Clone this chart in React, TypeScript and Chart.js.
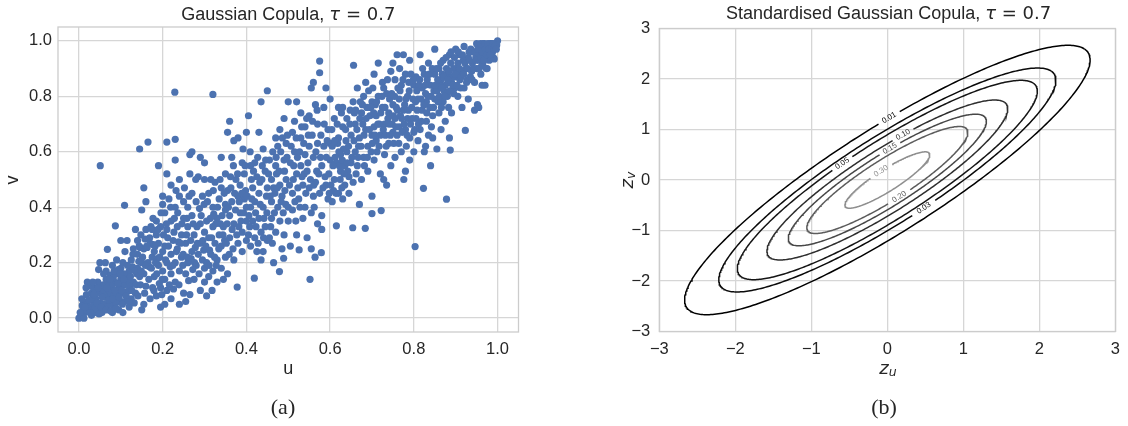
import React, { useEffect, useRef } from "react";
import { Chart, registerables } from "chart.js";

Chart.register(...registerables);

// ---------------- data ----------------
const TAU = 0.7;

const scatterTickValues = [0, 0.2, 0.4, 0.6, 0.8, 1.0];
const scatterTickLabels = ["0.0", "0.2", "0.4", "0.6", "0.8", "1.0"];

const zTickValues = [-3, -2, -1, 0, 1, 2, 3];
const zTickLabels = ["\u22123", "\u22122", "\u22121", "0", "1", "2", "3"];

const contourLevels = [0.01, 0.03, 0.05, 0.1, 0.15, 0.2, 0.3];
const contourLabelText = ["0.01", "0.03", "0.05", "0.10", "0.15", "0.20", "0.30"];
const contourLabelU = [0.02, 0.497, -0.593, 0.214, 0.027, 0.148, -0.09];
const contourLabelV = [1.24, -0.568, 0.351, 0.911, 0.615, -0.306, 0.187];
const contourColors = ["#000000", "#0a0a0a", "#151515", "#2e2e2e", "#474747", "#5c5c5c", "#8f8f8f"];

// (u, v) pairs
const copulaSample: number[][] = [
  [0, 0], [0.005, 0.01], [0.01, 0.03], [0.01, 0.05], [0.015, 0.02], [0.02, 0.06], [0.02, 0.13], [0.025, 0.04],
  [0.03, 0.01], [0.03, 0.09], [0.035, 0.05], [0.035, 0.11], [0.04, 0.02], [0.04, 0.07], [0.045, 0.13], [0.045, 0.03],
  [0.05, 0.09], [0.05, 0.055], [0.008, 0.045], [0.018, 0.085], [0.028, 0.115], [0.038, 0.035], [0.048, 0.015],
  [0.012, 0.0], [0.051, 0.55], [0.047, 0.175], [0.05, 0.2], [0.022, 0.025], [0.032, 0.07], [0.042, 0.1],
  [0.055, 0.02], [0.06, 0.05], [0.06, 0.1], [0.065, 0.14], [0.065, 0.17], [0.07, 0.03], [0.07, 0.08], [0.07, 0.12],
  [0.068, 0.248], [0.075, 0.06], [0.075, 0.155], [0.08, 0.02], [0.08, 0.1], [0.08, 0.19], [0.085, 0.04], [0.085, 0.13],
  [0.087, 0.333], [0.09, 0.07], [0.09, 0.16], [0.09, 0.21], [0.095, 0.11], [0.095, 0.03], [0.1, 0.06], [0.1, 0.14],
  [0.1, 0.18], [0.1, 0.28], [0.058, 0.12], [0.063, 0.2], [0.073, 0.05], [0.083, 0.085], [0.092, 0.095], [0.097, 0.125],
  [0.078, 0.115], [0.088, 0.055], [0.062, 0.075], [0.072, 0.1], [0.082, 0.145], [0.094, 0.175],
  [0.105, 0.02], [0.105, 0.09], [0.105, 0.2], [0.109, 0.407], [0.11, 0.06], [0.11, 0.12], [0.11, 0.24], [0.115, 0.15],
  [0.115, 0.28], [0.12, 0.04], [0.12, 0.1], [0.12, 0.17], [0.125, 0.07], [0.125, 0.21], [0.13, 0.13], [0.13, 0.25],
  [0.135, 0.32], [0.135, 0.09], [0.14, 0.18], [0.14, 0.23], [0.14, 0.28], [0.145, 0.15], [0.145, 0.61], [0.148, 0.3],
  [0.15, 0.03], [0.15, 0.2], [0.15, 0.39], [0.112, 0.095], [0.118, 0.135], [0.128, 0.185], [0.138, 0.16], [0.143, 0.205],
  [0.108, 0.16], [0.132, 0.055], [0.122, 0.115], [0.146, 0.255],
  [0.155, 0.05], [0.155, 0.16], [0.155, 0.25], [0.155, 0.47], [0.16, 0.115], [0.16, 0.32], [0.16, 0.42], [0.165, 0.635],
  [0.165, 0.2], [0.17, 0.07], [0.17, 0.27], [0.175, 0.22], [0.175, 0.32], [0.18, 0.15], [0.18, 0.24], [0.185, 0.08],
  [0.185, 0.3], [0.185, 0.35], [0.19, 0.19], [0.19, 0.27], [0.19, 0.55], [0.195, 0.04], [0.195, 0.11], [0.195, 0.33],
  [0.2, 0.17], [0.2, 0.24], [0.2, 0.41], [0.2, 0.44], [0.158, 0.285], [0.168, 0.185], [0.178, 0.265], [0.172, 0.33],
  [0.188, 0.215], [0.192, 0.125], [0.198, 0.085], [0.163, 0.255], [0.176, 0.11], [0.183, 0.2],
  [0.205, 0.05], [0.205, 0.14], [0.205, 0.26], [0.205, 0.38], [0.21, 0.1], [0.21, 0.2], [0.21, 0.32], [0.21, 0.52],
  [0.21, 0.635], [0.215, 0.43], [0.22, 0.07], [0.22, 0.16], [0.22, 0.23], [0.22, 0.35], [0.22, 0.48], [0.225, 0.28],
  [0.229, 0.815], [0.23, 0.645], [0.23, 0.13], [0.23, 0.2], [0.23, 0.4], [0.23, 0.57], [0.235, 0.25], [0.235, 0.33],
  [0.24, 0.05], [0.24, 0.17], [0.24, 0.44], [0.24, 0.5], [0.245, 0.3], [0.245, 0.22], [0.25, 0.09], [0.25, 0.36],
  [0.25, 0.42], [0.212, 0.29], [0.218, 0.185], [0.228, 0.36], [0.238, 0.275], [0.248, 0.19], [0.226, 0.105], [0.232, 0.46],
  [0.255, 0.06], [0.255, 0.16], [0.255, 0.27], [0.26, 0.2], [0.26, 0.33], [0.26, 0.4], [0.265, 0.085], [0.265, 0.52],
  [0.265, 0.59], [0.27, 0.24], [0.27, 0.37], [0.27, 0.45], [0.27, 0.6], [0.275, 0.14], [0.275, 0.3], [0.28, 0.19],
  [0.28, 0.42], [0.285, 0.23], [0.285, 0.51], [0.29, 0.1], [0.29, 0.34], [0.29, 0.27], [0.29, 0.58], [0.295, 0.21],
  [0.295, 0.44], [0.3, 0.13], [0.3, 0.18], [0.3, 0.31], [0.3, 0.5], [0.3, 0.56], [0.258, 0.36], [0.268, 0.215],
  [0.278, 0.255], [0.282, 0.33], [0.288, 0.395], [0.298, 0.245], [0.262, 0.135], [0.272, 0.175],
  [0.305, 0.08], [0.305, 0.2], [0.305, 0.35], [0.31, 0.15], [0.31, 0.29], [0.31, 0.45], [0.315, 0.23], [0.315, 0.5],
  [0.32, 0.807], [0.32, 0.17], [0.32, 0.33], [0.32, 0.4], [0.325, 0.27], [0.325, 0.49], [0.33, 0.13], [0.33, 0.21],
  [0.33, 0.36], [0.335, 0.3], [0.335, 0.43], [0.34, 0.18], [0.34, 0.26], [0.34, 0.47], [0.34, 0.58], [0.345, 0.14],
  [0.345, 0.33], [0.35, 0.22], [0.35, 0.39], [0.35, 0.52], [0.35, 0.41], [0.312, 0.245], [0.322, 0.375], [0.328, 0.19],
  [0.338, 0.34], [0.348, 0.28], [0.318, 0.1],
  [0.355, 0.67], [0.36, 0.71], [0.355, 0.16], [0.355, 0.46], [0.36, 0.29], [0.36, 0.37], [0.365, 0.58], [0.365, 0.42],
  [0.37, 0.21], [0.37, 0.34], [0.37, 0.64], [0.375, 0.5], [0.378, 0.112], [0.38, 0.27], [0.38, 0.44], [0.38, 0.65],
  [0.385, 0.38], [0.385, 0.48], [0.39, 0.31], [0.39, 0.56], [0.39, 0.24], [0.395, 0.43], [0.395, 0.52], [0.4, 0.35],
  [0.4, 0.4], [0.4, 0.67], [0.4, 0.28], [0.362, 0.51], [0.368, 0.25], [0.372, 0.45], [0.382, 0.33], [0.392, 0.61],
  [0.398, 0.46],
  [0.405, 0.73], [0.405, 0.3], [0.41, 0.55], [0.41, 0.4], [0.41, 0.26], [0.415, 0.47], [0.415, 0.35], [0.419, 0.144],
  [0.42, 0.56], [0.42, 0.29], [0.42, 0.42], [0.425, 0.51], [0.425, 0.24], [0.43, 0.36], [0.43, 0.45], [0.43, 0.67],
  [0.435, 0.31], [0.435, 0.78], [0.435, 0.21], [0.44, 0.24], [0.44, 0.4], [0.44, 0.61], [0.445, 0.33], [0.445, 0.53],
  [0.45, 0.82], [0.45, 0.47], [0.45, 0.28], [0.412, 0.5], [0.422, 0.38], [0.428, 0.27], [0.438, 0.55], [0.442, 0.36],
  [0.448, 0.44], [0.432, 0.49], [0.408, 0.33],
  [0.455, 0.29], [0.455, 0.57], [0.46, 0.42], [0.46, 0.5], [0.46, 0.36], [0.465, 0.47], [0.465, 0.2], [0.47, 0.65],
  [0.47, 0.31], [0.47, 0.55], [0.475, 0.4], [0.475, 0.62], [0.479, 0.168], [0.48, 0.35], [0.48, 0.48], [0.48, 0.68],
  [0.485, 0.25], [0.485, 0.44], [0.489, 0.216], [0.49, 0.57], [0.49, 0.72], [0.49, 0.3], [0.495, 0.63], [0.495, 0.5],
  [0.5, 0.78], [0.5, 0.4], [0.5, 0.35], [0.458, 0.33], [0.468, 0.45], [0.472, 0.52], [0.482, 0.6], [0.488, 0.38],
  [0.498, 0.66], [0.462, 0.27], [0.492, 0.46],
  [0.505, 0.26], [0.505, 0.56], [0.51, 0.45], [0.51, 0.67], [0.51, 0.39], [0.515, 0.6], [0.515, 0.71], [0.52, 0.3],
  [0.52, 0.52], [0.52, 0.78], [0.525, 0.43], [0.526, 0.246], [0.53, 0.55], [0.53, 0.65], [0.53, 0.74], [0.535, 0.36],
  [0.535, 0.48], [0.54, 0.59], [0.54, 0.69], [0.54, 0.4], [0.545, 0.29], [0.545, 0.53], [0.55, 0.47], [0.55, 0.62],
  [0.55, 0.73], [0.552, 0.14], [0.512, 0.5], [0.522, 0.58], [0.532, 0.69], [0.538, 0.52], [0.548, 0.66], [0.528, 0.4],
  [0.518, 0.35],
  [0.555, 0.25], [0.555, 0.38], [0.555, 0.83], [0.56, 0.44], [0.56, 0.58], [0.56, 0.85], [0.564, 0.22], [0.565, 0.49],
  [0.565, 0.77], [0.57, 0.34], [0.57, 0.63], [0.57, 0.7], [0.575, 0.927], [0.575, 0.885], [0.575, 0.45], [0.579, 0.236],
  [0.58, 0.37], [0.58, 0.55], [0.58, 0.32], [0.585, 0.62], [0.585, 0.76], [0.59, 0.48], [0.59, 0.83], [0.595, 0.43],
  [0.595, 0.68], [0.6, 0.57], [0.6, 0.63], [0.6, 0.79], [0.558, 0.71], [0.568, 0.53], [0.578, 0.66], [0.588, 0.51],
  [0.598, 0.45], [0.562, 0.4],
  [0.605, 0.42], [0.605, 0.62], [0.61, 0.5], [0.61, 0.72], [0.615, 0.333], [0.615, 0.56], [0.62, 0.45], [0.62, 0.65],
  [0.62, 0.76], [0.625, 0.53], [0.625, 0.59], [0.63, 0.43], [0.63, 0.69], [0.63, 0.76], [0.635, 0.55], [0.635, 0.48],
  [0.64, 0.6], [0.64, 0.72], [0.645, 0.45], [0.645, 0.51], [0.65, 0.66], [0.65, 0.56], [0.608, 0.46], [0.612, 0.58],
  [0.618, 0.63], [0.628, 0.47], [0.638, 0.64], [0.642, 0.53], [0.648, 0.75], [0.622, 0.55], [0.632, 0.61],
  [0.654, 0.326], [0.655, 0.49], [0.655, 0.78], [0.656, 0.912], [0.66, 0.6], [0.66, 0.7], [0.665, 0.55], [0.665, 0.83],
  [0.67, 0.41], [0.67, 0.65], [0.675, 0.74], [0.675, 0.5], [0.68, 0.58], [0.68, 0.8], [0.684, 0.324], [0.685, 0.68],
  [0.685, 0.85], [0.69, 0.62], [0.69, 0.53], [0.695, 0.73], [0.7, 0.78], [0.7, 0.44], [0.7, 0.377], [0.7, 0.66],
  [0.658, 0.74], [0.668, 0.62], [0.672, 0.78], [0.678, 0.7], [0.688, 0.76], [0.692, 0.82], [0.698, 0.6], [0.662, 0.52],
  [0.682, 0.55],
  [0.705, 0.57], [0.705, 0.69], [0.705, 0.88], [0.71, 0.73], [0.71, 0.64], [0.715, 0.8], [0.715, 0.92], [0.72, 0.52],
  [0.72, 0.66], [0.722, 0.388], [0.725, 0.76], [0.725, 0.85], [0.73, 0.59], [0.73, 0.7], [0.735, 0.48], [0.735, 0.81],
  [0.74, 0.63], [0.74, 0.74], [0.745, 0.55], [0.745, 0.89], [0.75, 0.67], [0.75, 0.77], [0.75, 0.92], [0.708, 0.77],
  [0.712, 0.6], [0.718, 0.7], [0.728, 0.83], [0.732, 0.66], [0.738, 0.72], [0.742, 0.79], [0.748, 0.7], [0.702, 0.83],
  [0.728, 0.5],
  [0.755, 0.58], [0.755, 0.72], [0.755, 0.86], [0.76, 0.95], [0.76, 0.66], [0.765, 0.79], [0.765, 0.69], [0.77, 0.6],
  [0.77, 0.84], [0.775, 0.75], [0.775, 0.95], [0.78, 0.53], [0.78, 0.68], [0.78, 0.88], [0.785, 0.72], [0.785, 0.8],
  [0.79, 0.57], [0.79, 0.65], [0.79, 0.93], [0.795, 0.76], [0.8, 0.67], [0.8, 0.84], [0.8, 0.6], [0.758, 0.76],
  [0.762, 0.83], [0.768, 0.73], [0.772, 0.67], [0.778, 0.77], [0.782, 0.62], [0.788, 0.85], [0.792, 0.7], [0.798, 0.79],
  [0.752, 0.63], [0.766, 0.9], [0.776, 0.5],
  [0.803, 0.258], [0.805, 0.72], [0.805, 0.87], [0.81, 0.64], [0.81, 0.79], [0.815, 0.95], [0.815, 0.68], [0.82, 0.75],
  [0.82, 0.83], [0.823, 0.468], [0.825, 0.6], [0.825, 0.88], [0.83, 0.71], [0.83, 0.78], [0.835, 0.66], [0.835, 0.92],
  [0.84, 0.55], [0.84, 0.84], [0.845, 0.73], [0.845, 0.65], [0.85, 0.79], [0.85, 0.97], [0.85, 0.88], [0.808, 0.75],
  [0.812, 0.84], [0.818, 0.71], [0.828, 0.81], [0.832, 0.86], [0.838, 0.76], [0.842, 0.69], [0.848, 0.82], [0.828, 0.62],
  [0.802, 0.68],
  [0.855, 0.61], [0.855, 0.82], [0.86, 0.9], [0.86, 0.74], [0.865, 0.68], [0.865, 0.86], [0.87, 0.78], [0.87, 0.93],
  [0.875, 0.84], [0.875, 0.71], [0.878, 0.429], [0.88, 0.88], [0.88, 0.8], [0.885, 0.65], [0.885, 0.95], [0.887, 0.606],
  [0.89, 0.85], [0.89, 0.74], [0.895, 0.9], [0.895, 0.81], [0.9, 0.87], [0.9, 0.97], [0.858, 0.78], [0.862, 0.84],
  [0.868, 0.88], [0.872, 0.82], [0.878, 0.9], [0.882, 0.85], [0.888, 0.92], [0.892, 0.87], [0.898, 0.83], [0.883, 0.76],
  [0.866, 0.76],
  [0.905, 0.8], [0.905, 0.92], [0.91, 0.86], [0.91, 0.95], [0.915, 0.76], [0.915, 0.89], [0.92, 0.83], [0.92, 0.98],
  [0.923, 0.677], [0.925, 0.9], [0.93, 0.94], [0.93, 0.79], [0.935, 0.87], [0.94, 0.92], [0.94, 0.96], [0.945, 0.85],
  [0.945, 0.75], [0.95, 0.9], [0.95, 0.99], [0.908, 0.88], [0.912, 0.83], [0.918, 0.93], [0.928, 0.86], [0.932, 0.96],
  [0.938, 0.89], [0.948, 0.94], [0.952, 0.77], [0.902, 0.9],
  [0.955, 0.93], [0.955, 0.76], [0.96, 0.97], [0.96, 0.88], [0.965, 0.99], [0.965, 0.92], [0.97, 0.95], [0.97, 0.84],
  [0.975, 0.98], [0.975, 0.9], [0.98, 0.96], [0.98, 0.93], [0.985, 0.99], [0.985, 0.97], [0.99, 0.98], [0.99, 0.94],
  [0.995, 0.99], [1.0, 1.0], [0.958, 0.95], [0.962, 0.91], [0.968, 0.96], [0.972, 0.98], [0.978, 0.94], [0.982, 0.99],
  [0.988, 0.96], [0.992, 0.935], [0.998, 0.985], [0.963, 0.84], [0.973, 0.9],
  // additional points in the denser parts of the band
  [0.003, 0.02], [0.007, 0.07], [0.014, 0.04], [0.017, 0.11], [0.024, 0.065], [0.027, 0.02], [0.033, 0.13], [0.036, 0.085],
  [0.043, 0.055], [0.046, 0.11], [0.053, 0.04], [0.056, 0.075], [0.059, 0.16], [0.064, 0.03], [0.067, 0.11], [0.071, 0.065],
  [0.074, 0.14], [0.077, 0.025], [0.081, 0.07], [0.084, 0.17], [0.086, 0.1], [0.089, 0.035], [0.093, 0.125], [0.096, 0.075],
  [0.099, 0.16], [0.102, 0.1], [0.104, 0.05], [0.107, 0.14], [0.113, 0.08], [0.116, 0.19], [0.119, 0.06], [0.123, 0.15],
  [0.126, 0.1], [0.129, 0.23], [0.134, 0.17], [0.137, 0.12], [0.141, 0.08], [0.144, 0.26], [0.147, 0.12], [0.149, 0.17],
  [0.152, 0.22], [0.157, 0.09], [0.159, 0.19], [0.162, 0.26], [0.167, 0.14], [0.169, 0.29], [0.173, 0.18], [0.177, 0.36],
  [0.179, 0.1], [0.182, 0.26], [0.186, 0.16], [0.189, 0.32], [0.193, 0.22], [0.196, 0.38], [0.199, 0.14], [0.202, 0.3],
  [0.207, 0.21], [0.209, 0.34], [0.214, 0.26], [0.216, 0.12], [0.219, 0.4], [0.224, 0.19], [0.227, 0.31], [0.233, 0.24],
  [0.236, 0.38], [0.239, 0.12], [0.243, 0.27], [0.246, 0.34], [0.249, 0.23], [0.252, 0.47], [0.257, 0.3], [0.259, 0.22],
  [0.263, 0.44], [0.267, 0.28], [0.273, 0.34], [0.276, 0.2], [0.279, 0.5], [0.283, 0.27], [0.287, 0.16], [0.292, 0.37],
  [0.296, 0.28], [0.299, 0.41],
  [0.303, 0.26], [0.307, 0.42], [0.311, 0.19], [0.314, 0.36], [0.317, 0.29], [0.321, 0.46], [0.324, 0.22], [0.327, 0.34],
  [0.331, 0.4], [0.334, 0.25], [0.337, 0.5], [0.342, 0.37], [0.344, 0.3], [0.347, 0.45], [0.352, 0.27], [0.354, 0.34],
  [0.357, 0.4], [0.359, 0.23], [0.363, 0.47], [0.366, 0.32], [0.369, 0.55], [0.374, 0.39], [0.377, 0.3], [0.379, 0.52],
  [0.383, 0.42], [0.387, 0.35], [0.389, 0.45], [0.393, 0.38], [0.397, 0.55], [0.402, 0.44], [0.406, 0.37], [0.409, 0.6],
  [0.413, 0.43], [0.417, 0.53], [0.423, 0.33], [0.427, 0.58], [0.433, 0.41], [0.437, 0.5], [0.441, 0.29], [0.446, 0.57],
  [0.449, 0.38],
  [0.453, 0.52], [0.457, 0.44], [0.463, 0.6], [0.467, 0.38], [0.471, 0.58], [0.474, 0.47], [0.478, 0.53], [0.483, 0.42],
  [0.486, 0.65], [0.491, 0.53], [0.494, 0.41], [0.497, 0.58], [0.503, 0.48], [0.507, 0.62], [0.513, 0.55], [0.516, 0.42],
  [0.519, 0.65], [0.523, 0.47], [0.527, 0.6], [0.533, 0.51], [0.537, 0.63], [0.542, 0.45], [0.544, 0.72], [0.547, 0.56],
  [0.553, 0.5], [0.557, 0.66], [0.561, 0.48], [0.566, 0.6], [0.569, 0.75], [0.573, 0.52], [0.577, 0.58], [0.583, 0.47],
  [0.586, 0.7], [0.591, 0.58], [0.593, 0.64], [0.597, 0.52],
  [0.602, 0.48], [0.604, 0.68], [0.607, 0.55], [0.611, 0.64], [0.614, 0.45], [0.617, 0.7], [0.621, 0.6], [0.624, 0.5],
  [0.627, 0.74], [0.629, 0.57], [0.633, 0.52], [0.637, 0.68], [0.641, 0.56], [0.644, 0.62], [0.647, 0.7], [0.652, 0.58],
  [0.657, 0.64], [0.661, 0.75], [0.664, 0.68], [0.667, 0.58], [0.671, 0.72], [0.674, 0.62], [0.677, 0.77], [0.681, 0.66],
  [0.686, 0.72], [0.689, 0.58], [0.694, 0.68], [0.697, 0.76], [0.701, 0.63], [0.704, 0.74], [0.707, 0.66], [0.711, 0.78],
  [0.714, 0.7], [0.717, 0.62], [0.721, 0.74], [0.724, 0.8], [0.727, 0.68], [0.731, 0.76], [0.734, 0.62], [0.737, 0.86],
  [0.741, 0.7], [0.744, 0.66], [0.747, 0.81],
  [0.751, 0.73], [0.754, 0.8], [0.757, 0.69], [0.761, 0.75], [0.764, 0.63], [0.767, 0.82], [0.771, 0.72], [0.774, 0.86],
  [0.777, 0.7], [0.781, 0.79], [0.784, 0.66], [0.787, 0.75], [0.789, 0.82], [0.793, 0.88], [0.796, 0.72], [0.799, 0.86],
  [0.804, 0.78], [0.807, 0.82], [0.811, 0.7], [0.814, 0.86], [0.817, 0.79], [0.821, 0.9], [0.824, 0.77], [0.827, 0.84],
  [0.831, 0.74], [0.834, 0.8], [0.837, 0.88], [0.841, 0.8], [0.844, 0.9], [0.847, 0.76], [0.851, 0.84], [0.854, 0.9],
  [0.857, 0.86], [0.861, 0.8], [0.864, 0.92], [0.867, 0.83], [0.871, 0.87], [0.874, 0.8], [0.877, 0.94], [0.881, 0.86],
  [0.884, 0.89], [0.886, 0.82], [0.889, 0.96], [0.893, 0.84], [0.897, 0.94], [0.899, 0.88],
  [0.903, 0.84], [0.906, 0.96], [0.909, 0.9], [0.913, 0.87], [0.916, 0.95], [0.919, 0.88], [0.922, 0.92], [0.926, 0.85],
  [0.929, 0.9], [0.933, 0.93], [0.936, 0.97], [0.939, 0.86], [0.943, 0.9], [0.946, 0.96], [0.949, 0.93], [0.953, 0.97],
  [0.956, 0.9], [0.959, 0.99], [0.961, 0.94], [0.964, 0.96], [0.967, 0.93], [0.969, 0.99], [0.971, 0.97], [0.974, 0.95],
  [0.977, 0.99], [0.979, 0.97], [0.983, 0.95], [0.986, 0.98], [0.989, 0.99], [0.991, 0.97], [0.994, 0.98], [0.997, 0.97],
];

// ---------------- styling ----------------
const TEXT = "#262626";
const GRID = "#d6d6d6";
const SANS = "'Liberation Sans', Arial, sans-serif";
const MATH = "'DejaVu Sans', sans-serif";
const POINT_BLUE = "#4c72b0";
const TICK_SIZE = 16.5;
const LABEL_SIZE = 18;

type Part = { t: string; font: string; dy?: number };

function drawRich(ctx: CanvasRenderingContext2D, parts: Part[], cx: number, cy: number, rot = 0) {
  ctx.save();
  ctx.translate(cx, cy);
  if (rot) ctx.rotate(rot);
  let total = 0;
  const widths = parts.map((p) => {
    ctx.font = p.font;
    const w = ctx.measureText(p.t).width;
    total += w;
    return w;
  });
  let x = -total / 2;
  ctx.fillStyle = TEXT;
  ctx.textBaseline = "middle";
  ctx.textAlign = "left";
  parts.forEach((p, i) => {
    ctx.font = p.font;
    ctx.fillText(p.t, x, p.dy || 0);
    x += widths[i];
  });
  ctx.restore();
}

const framePlugin = {
  id: "frame",
  beforeDatasetsDraw(chart: any) {
    const { ctx, chartArea: a } = chart;
    ctx.save();
    ctx.strokeStyle = "#cccccc";
    ctx.lineWidth = 1.3;
    ctx.strokeRect(a.left, a.top, a.right - a.left, a.bottom - a.top);
    ctx.restore();
  },
};

function makeTextPlugin(items: { parts: Part[]; x: number; y: number; rot?: number }[]) {
  return {
    id: "texts",
    afterDraw(chart: any) {
      const ctx = chart.ctx;
      items.forEach((it) => drawRich(ctx, it.parts, it.x, it.y, it.rot || 0));
    },
  };
}

function axisOpts(min: number, max: number, values: number[], labels: string[], isX: boolean, size: number, pad: number) {
  return {
    type: "linear",
    min,
    max,
    afterBuildTicks: (s: any) => {
      s.ticks = values.map((v) => ({ value: v }));
    },
    afterFit: (s: any) => {
      if (isX) s.height = size;
      else s.width = size;
    },
    ticks: {
      autoSkip: false,
      maxRotation: 0,
      padding: pad,
      color: TEXT,
      font: { family: SANS, size: TICK_SIZE },
      callback: (_v: any, i: number) => labels[i],
    },
    grid: { color: GRID, lineWidth: 1.3, drawTicks: false },
    border: { display: false },
  };
}

// ---------------- contour geometry ----------------
const rho = Math.sin((Math.PI * TAU) / 2);
const fMax = 1 / (2 * Math.PI * Math.sqrt(1 - rho * rho));

function contourPoints(level: number) {
  const d = Math.sqrt(2 * Math.log(fMax / level));
  const a = Math.sqrt(1 + rho);
  const b = Math.sqrt(1 - rho);
  const pts: { x: number; y: number }[] = [];
  for (let k = 0; k <= 360; k++) {
    const t = (k * Math.PI) / 180;
    const p = (d * a * Math.cos(t)) / Math.SQRT2;
    const q = (d * b * Math.sin(t)) / Math.SQRT2;
    pts.push({ x: p + q, y: p - q });
  }
  return pts;
}

const LABEL_FONT = `7.8px ${SANS}`;

function anchors(chart: any) {
  const key = `${chart.chartArea.left},${chart.chartArea.top},${chart.chartArea.right},${chart.chartArea.bottom}`;
  if (chart.$anchors && chart.$anchorsKey === key) return chart.$anchors;
  const xs = chart.scales.x;
  const ys = chart.scales.y;
  const res = contourLevels.map((_lv, i) => {
    const data = chart.data.datasets[i].data as { x: number; y: number }[];
    const px = data.map((p) => xs.getPixelForValue(p.x));
    const py = data.map((p) => ys.getPixelForValue(p.y));
    const lx = xs.getPixelForValue(contourLabelU[i]);
    const ly = ys.getPixelForValue(contourLabelV[i]);
    let best = 0;
    let bd = Infinity;
    for (let k = 0; k < px.length; k++) {
      const dd = (px[k] - lx) ** 2 + (py[k] - ly) ** 2;
      if (dd < bd) {
        bd = dd;
        best = k;
      }
    }
    const n = px.length - 1;
    const k0 = (best - 2 + n) % n;
    const k1 = (best + 2) % n;
    let ang = Math.atan2(py[k1] - py[k0], px[k1] - px[k0]);
    if (ang > Math.PI / 2) ang -= Math.PI;
    if (ang < -Math.PI / 2) ang += Math.PI;
    return { x: px[best], y: py[best], angle: ang };
  });
  chart.$anchors = res;
  chart.$anchorsKey = key;
  return res;
}

const contourLabelPlugin = {
  id: "clabels",
  afterDatasetsDraw(chart: any) {
    const ctx = chart.ctx;
    const an = anchors(chart);
    ctx.save();
    ctx.font = LABEL_FONT;
    ctx.textAlign = "center";
    ctx.textBaseline = "middle";
    an.forEach((a: any, i: number) => {
      ctx.save();
      ctx.translate(a.x, a.y);
      ctx.rotate(a.angle);
      ctx.fillStyle = contourColors[i];
      ctx.fillText(contourLabelText[i], 0, 0);
      ctx.restore();
    });
    ctx.restore();
  },
};

// ---------------- components ----------------
function ScatterPanel() {
  const ref = useRef<HTMLCanvasElement>(null);
  useEffect(() => {
    const canvas = ref.current!;
    const texts = makeTextPlugin([
      {
        parts: [
          { t: "Gaussian Copula, ", font: `${LABEL_SIZE}px ${SANS}` },
          { t: "\u03c4", font: `italic ${LABEL_SIZE}px ${MATH}` },
          { t: " = 0.7", font: `${LABEL_SIZE}px ${MATH}` },
        ],
        x: 288.3,
        y: 15,
      },
      { parts: [{ t: "u", font: `${LABEL_SIZE}px ${SANS}` }], x: 288.3, y: 369 },
      { parts: [{ t: "v", font: `${LABEL_SIZE}px ${SANS}` }], x: 13, y: 180, rot: -Math.PI / 2 },
      { parts: [{ t: "(a)", font: `22px 'Liberation Serif', 'Times New Roman', serif` }], x: 283, y: 408 },
    ]);
    const chart = new Chart(canvas, {
      type: "scatter",
      data: {
        datasets: [
          {
            data: copulaSample.map((p) => ({ x: p[0], y: p[1] })),
            backgroundColor: POINT_BLUE,
            borderWidth: 0,
            pointRadius: 3.6,
          },
        ],
      },
      options: {
        animation: false,
        responsive: false,
        events: [],
        layout: { padding: { top: 27, right: 41.5, left: 0, bottom: 0 } },
        plugins: { legend: { display: false }, tooltip: { enabled: false } },
        scales: {
          x: axisOpts(-0.05, 1.05, scatterTickValues, scatterTickLabels, true, 94, 8) as any,
          y: axisOpts(-0.05, 1.05, scatterTickValues, scatterTickLabels, false, 58, 6) as any,
        },
      },
      plugins: [framePlugin, texts],
    });
    return () => chart.destroy();
  }, []);
  return <canvas ref={ref} width={560} height={426} style={{ position: "absolute", left: 0, top: 0, width: 560, height: 426 }} />;
}

function ContourPanel() {
  const ref = useRef<HTMLCanvasElement>(null);
  useEffect(() => {
    const canvas = ref.current!;
    const texts = makeTextPlugin([
      {
        parts: [
          { t: "Standardised Gaussian Copula, ", font: `${LABEL_SIZE}px ${SANS}` },
          { t: "\u03c4", font: `italic ${LABEL_SIZE}px ${MATH}` },
          { t: " = 0.7", font: `${LABEL_SIZE}px ${MATH}` },
        ],
        x: 328.6,
        y: 14,
      },
      {
        parts: [
          { t: "z", font: `italic ${LABEL_SIZE}px ${MATH}` },
          { t: "u", font: `italic 12.5px ${MATH}`, dy: 4 },
        ],
        x: 328,
        y: 369,
      },
      {
        parts: [
          { t: "z", font: `italic ${LABEL_SIZE}px ${MATH}` },
          { t: "v", font: `italic 12.5px ${MATH}`, dy: 4 },
        ],
        x: 68,
        y: 180,
        rot: -Math.PI / 2,
      },
      { parts: [{ t: "(b)", font: `22px 'Liberation Serif', 'Times New Roman', serif` }], x: 324, y: 408 },
    ]);
    const datasets = contourLevels.map((lv, i) => ({
      data: contourPoints(lv),
      showLine: true,
      borderColor: contourColors[i],
      borderWidth: 1.5,
      pointRadius: 0,
      tension: 0,
      fill: false,
      segment: {
        borderColor: (c: any) => {
          const a = anchors(c.chart)[c.datasetIndex];
          const w = contourLabelText[i].length * 2.4 + 3;
          const mx = (c.p0.x + c.p1.x) / 2;
          const my = (c.p0.y + c.p1.y) / 2;
          return Math.hypot(mx - a.x, my - a.y) < w ? "rgba(0,0,0,0)" : undefined;
        },
      },
    }));
    const chart = new Chart(canvas, {
      type: "scatter",
      data: { datasets: datasets as any },
      options: {
        animation: false,
        responsive: false,
        events: [],
        layout: { padding: { top: 28.5, right: 10, left: 0, bottom: 0 } },
        plugins: { legend: { display: false }, tooltip: { enabled: false } },
        scales: {
          x: axisOpts(-3, 3, zTickValues, zTickLabels, true, 94.5, 8) as any,
          y: axisOpts(-3, 3, zTickValues, zTickLabels, false, 99.3, 9) as any,
        },
      },
      plugins: [framePlugin, contourLabelPlugin, texts],
    });
    return () => chart.destroy();
  }, []);
  return <canvas ref={ref} width={568} height={426} style={{ position: "absolute", left: 560, top: 0, width: 568, height: 426 }} />;
}

export default function App() {
  return (
    <div style={{ position: "absolute", left: 0, top: 0, width: 1128, height: 426, background: "#ffffff", overflow: "hidden" }}>
      <ScatterPanel />
      <ContourPanel />
    </div>
  );
}
